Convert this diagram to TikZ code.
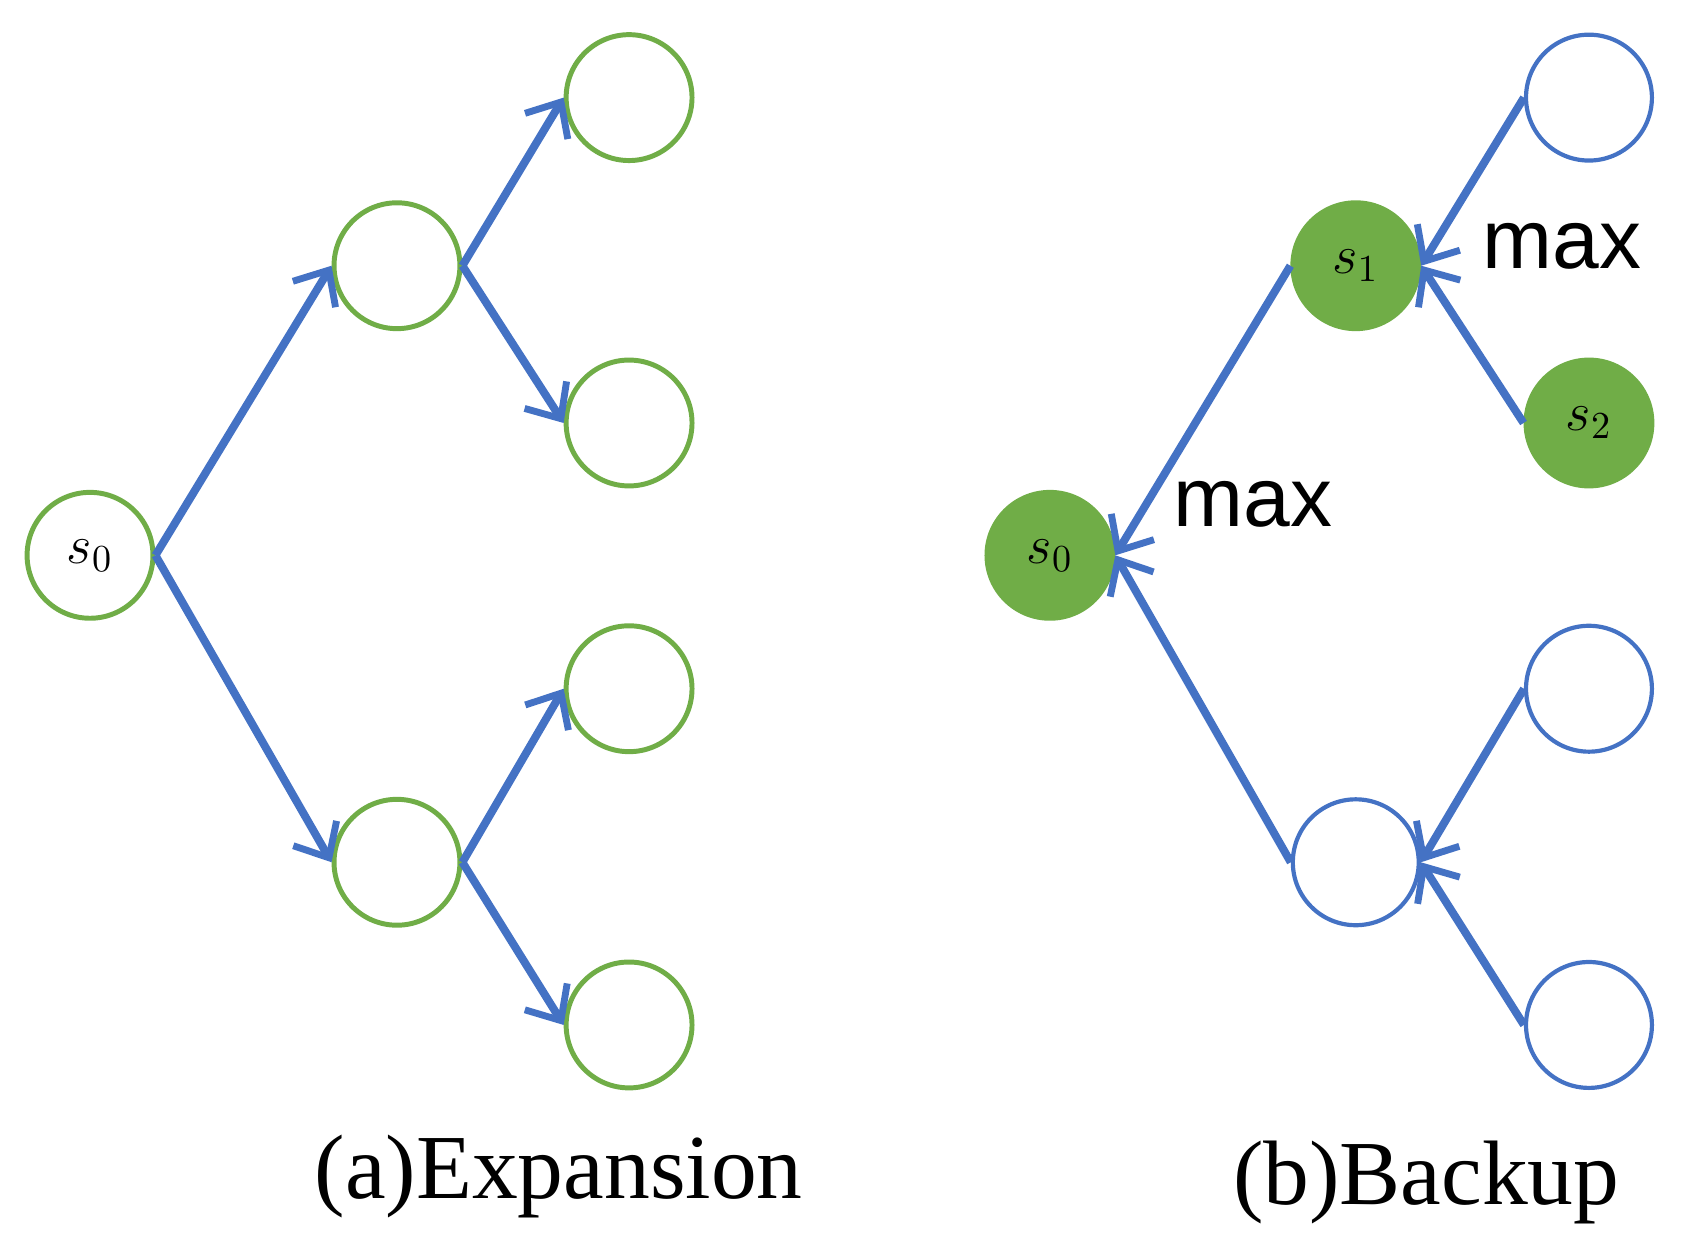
\documentclass[tikz,border=0pt]{standalone}
\usepackage{fontspec}
\newfontfamily\capfont{Liberation Serif}
\newfontfamily\maxfont{Liberation Sans}
\usetikzlibrary{arrows.meta}
\definecolor{arrowblue}{HTML}{4472C4}
\definecolor{nodegreen}{HTML}{70AD47}
\tikzset{
  st/.style={circle, draw=nodegreen, line width=1.3pt, minimum size=1.16cm, inner sep=0pt, font=\Large},
  stb/.style={st, draw=arrowblue, line width=1.1pt},
  stf/.style={st, fill=nodegreen},
  ar/.style={-{Straight Barb[length=2.6mm, width=4.6mm, line width=1.8pt]}, line width=2.1pt, draw=arrowblue},
  capt/.style={font=\capfont\fontsize{24}{28}\selectfont},
  mx/.style={font=\maxfont\fontsize{22}{26}\selectfont}
}
\begin{document}
\begin{tikzpicture}[x=0.01cm, y=-0.01cm]
  \useasboundingbox (0,0) rectangle (1560,1149);
    % (a) Expansion
    \node[st] (a0) at (83,512) {$s_0$};
    \node[st] (a1) at (366,245) {};
    \node[st] (a2) at (366,795) {};
    \node[st] (a11) at (580,90) {};
    \node[st] (a12) at (580,390) {};
    \node[st] (a21) at (580,635) {};
    \node[st] (a22) at (580,945) {};
    \draw[ar] (a0.east) -- (a1.west);
    \draw[ar] (a0.east) -- (a2.west);
    \draw[ar] (a1.east) -- (a11.west);
    \draw[ar] (a1.east) -- (a12.west);
    \draw[ar] (a2.east) -- (a21.west);
    \draw[ar] (a2.east) -- (a22.west);
    \node[capt] (capa) at (515,1085) {(a)Expansion};

    % (b) Backup
    \node[stf] (b0) at (968,512) {$s_0$};
    \node[stf] (b1) at (1250,245) {$s_1$};
    \node[stb] (b2) at (1250,795) {};
    \node[stb] (b11) at (1465,90) {};
    \node[stf] (b12) at (1465,390) {$s_2$};
    \node[stb] (b21) at (1465,635) {};
    \node[stb] (b22) at (1465,945) {};
    \draw[ar] (b1.west) -- (b0.east);
    \draw[ar] (b2.west) -- (b0.east);
    \draw[ar] (b11.west) -- (b1.east);
    \draw[ar] (b12.west) -- (b1.east);
    \draw[ar] (b21.west) -- (b2.east);
    \draw[ar] (b22.west) -- (b2.east);
    \node[mx] (m1) at (1440,227) {max};
    \node[mx] (m0) at (1155,465) {max};
    \node[capt] (capb) at (1315,1090) {(b)Backup};
\end{tikzpicture}
\end{document}
